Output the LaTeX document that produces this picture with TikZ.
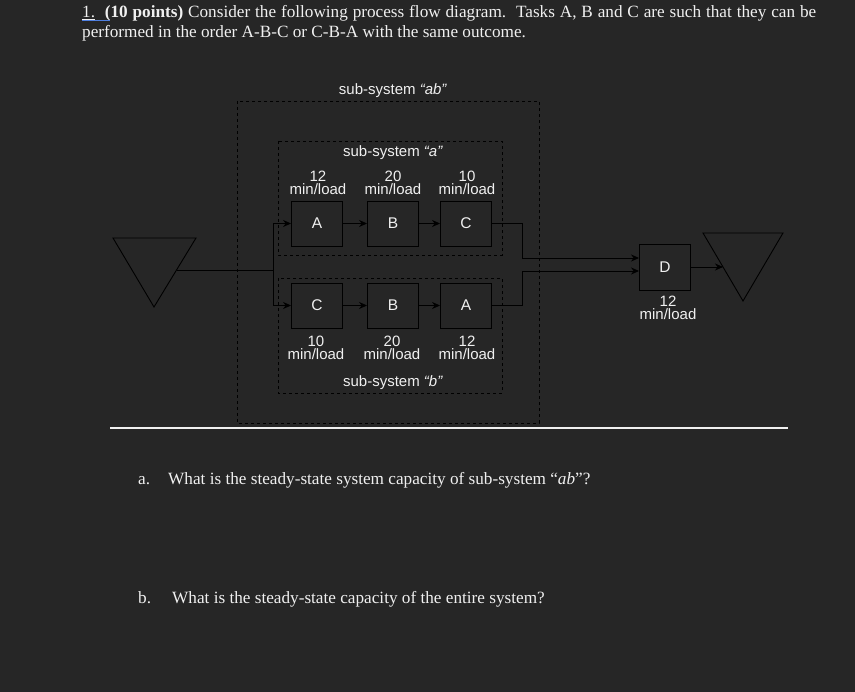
\documentclass[tikz,border=0pt]{standalone}
\usepackage{fontspec}
\setmainfont{Liberation Serif}
\newfontfamily\arialf{Liberation Sans}
\usetikzlibrary{arrows.meta}
\definecolor{bg}{HTML}{262626}
\definecolor{fg}{HTML}{F0F0F0}
\definecolor{spell}{HTML}{4F7FE0}
\begin{document}
\begin{tikzpicture}[x=1pt,y=-1pt,
  proc/.style={draw=black, line width=0.9pt, fill=bg, minimum width=51pt, minimum height=45pt, inner sep=0pt, text=fg, font=\arialf\fontsize{15.5}{15.5}\selectfont},
  lbl/.style={text=fg, font=\arialf\fontsize{15}{13}\selectfont, align=center, inner sep=0pt},
  dbox/.style={draw=black, dash pattern=on 3pt off 3pt, line width=0.8pt},
  arr/.style={draw=black, line width=0.9pt, -{Stealth[length=8pt,width=7pt]}},
  ln/.style={draw=black, line width=0.9pt},
  qtext/.style={text=fg, font=\fontsize{17.2}{20}\selectfont, anchor=base west, inner sep=0pt}]
\fill[bg] (0,0) rectangle (855,692);
\useasboundingbox (0,0) rectangle (855,692);

% title
\node[qtext] (title1) at (82,18) {\makebox[734pt][s]{\underline{1.}\ \ \textbf{(10 points)} Consider the following process flow diagram.\ \ Tasks A, B and C are such that they can be}};
\node[qtext] (title2) at (82,38) {performed in the order A-B-C or C-B-A with the same outcome.};
\draw[spell, line width=1pt] (82,20.5) -- (110,20.5);

% dashed sub-system boxes
\draw[dbox] (237,101) rectangle (539,423);
\draw[dbox] (278,141) rectangle (502,255);
\draw[dbox] (278,278) rectangle (502,393);

\node[lbl] (lab) at (393,91) {sub-system \textit{“ab”}};
\node[lbl] (la) at (393,153) {sub-system \textit{“a”}};
\node[lbl] (lb) at (393,383) {sub-system \textit{“b”}};

% processes
\node[proc] (A1) at (317,223.5) {A};
\node[proc] (B1) at (393,223.5) {B};
\node[proc] (C1) at (466,223.5) {C};
\node[proc] (C2) at (317,305.5) {C};
\node[proc] (B2) at (393,305.5) {B};
\node[proc] (A2) at (466,305.5) {A};
\node[proc, minimum height=46pt] (D) at (665,267) {D};

% times
\node[lbl] (tA1) at (318,182.5) {12\\min/load};
\node[lbl] (tB1) at (393,182.5) {20\\min/load};
\node[lbl] (tC1) at (467,182.5) {10\\min/load};
\node[lbl] (tC2) at (316,348) {10\\min/load};
\node[lbl] (tB2) at (392,348) {20\\min/load};
\node[lbl] (tA2) at (467,348) {12\\min/load};
\node[lbl] (tD) at (668,307.5) {12\\min/load};

% triangles
\draw[ln] (113,238) -- (196,238) -- (154,307) -- cycle;
\draw[ln] (703,233) -- (783,233) -- (743,301) -- cycle;
\coordinate (src) at (176.5,270);
\coordinate (sink) at (723,267);
\coordinate (split) at (273,270);
\coordinate (m1) at (522,258);
\coordinate (m2) at (522,271);

% connectors
\draw[ln] (src) -- (split);
\draw[arr] (split) |- (A1.west);
\draw[arr] (split) |- (C2.west);
\draw[arr] (A1) -- (B1);
\draw[arr] (B1) -- (C1);
\draw[arr] (C2) -- (B2);
\draw[arr] (B2) -- (A2);
\draw[ln] (C1.east) -| (m1);
\draw[arr] (m1) -- (m1 -| D.west);
\draw[ln] (A2.east) -| (m2);
\draw[arr] (m2) -- (m2 -| D.west);
\draw[arr] (D.east) -- (sink);

% rule
\draw[fg, line width=1.2pt] (110,428) -- (788,428);

% questions
\node[qtext] (qa) at (138,485) {a.};
\node[qtext] (qat) at (168,485) {What is the steady-state system capacity of sub-system “\textit{ab}”?};
\node[qtext] (qb) at (138,604) {b.};
\node[qtext] (qbt) at (172,604) {What is the steady-state capacity of the entire system?};
\end{tikzpicture}
\end{document}
